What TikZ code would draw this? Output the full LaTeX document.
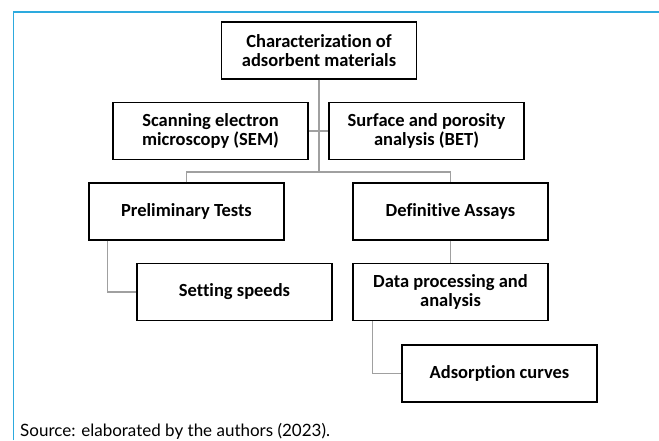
\documentclass[tikz,border=0pt]{standalone}
\usepackage{fontspec}
\setmainfont{Carlito}[Ligatures=NoCommon]
\newfontfamily\srcfont{Lato}
\usetikzlibrary{calc}
\definecolor{frameblue}{RGB}{45,170,222}
\definecolor{conngray}{RGB}{160,160,160}
\tikzset{
  box/.style={draw=black, line width=1.3pt, minimum width=195pt, minimum height=57pt,
    inner sep=0pt, align=center, font=\fontsize{18.5}{19.5}\selectfont\bfseries},
  conn/.style={draw=conngray, line width=1.5pt}
}
\begin{document}
\begin{tikzpicture}[x=1pt,y=-1pt]
\useasboundingbox (0,0) rectangle (659,440);
% frame
\draw[frameblue, line width=1.5pt] (13.5,440) -- (13.5,12) -- (659,12);
% nodes
\node[box] (top) at (319,50.5) {Characterization of\\adsorbent materials};
\node[box] (sem) at (210.5,131) {Scanning electron\\microscopy (SEM)};
\node[box] (bet) at (426.5,131) {Surface and porosity\\analysis (BET)};
\node[box] (pre) at (186.5,211.5) {Preliminary Tests};
\node[box] (def) at (450.5,211.5) {Definitive Assays};
\node[box] (set) at (234.5,292) {Setting speeds};
\node[box] (dat) at (450.5,292) {Data processing and\\analysis};
\node[box] (ads) at (499.5,373.5) {Adsorption curves};
\coordinate (j) at (319,172);
% connectors
\draw[conn] (top.south) -- (j);
\draw[conn] (sem.east) -- (bet.west);
\draw[conn] (pre.north) |- (j) -| (def.north);
\draw[conn] (def.south) -- (dat.north);
\draw[conn] ($(pre.south west)+(19,0)$) |- (set.west);
\draw[conn] ($(dat.south west)+(20,0)$) |- (ads.west);
% source
\node[anchor=base west, inner sep=0pt, font=\srcfont\fontsize{17}{19}\selectfont] (src) at (20,436.5) {Source: elaborated by the authors (2023).};
\end{tikzpicture}
\end{document}
